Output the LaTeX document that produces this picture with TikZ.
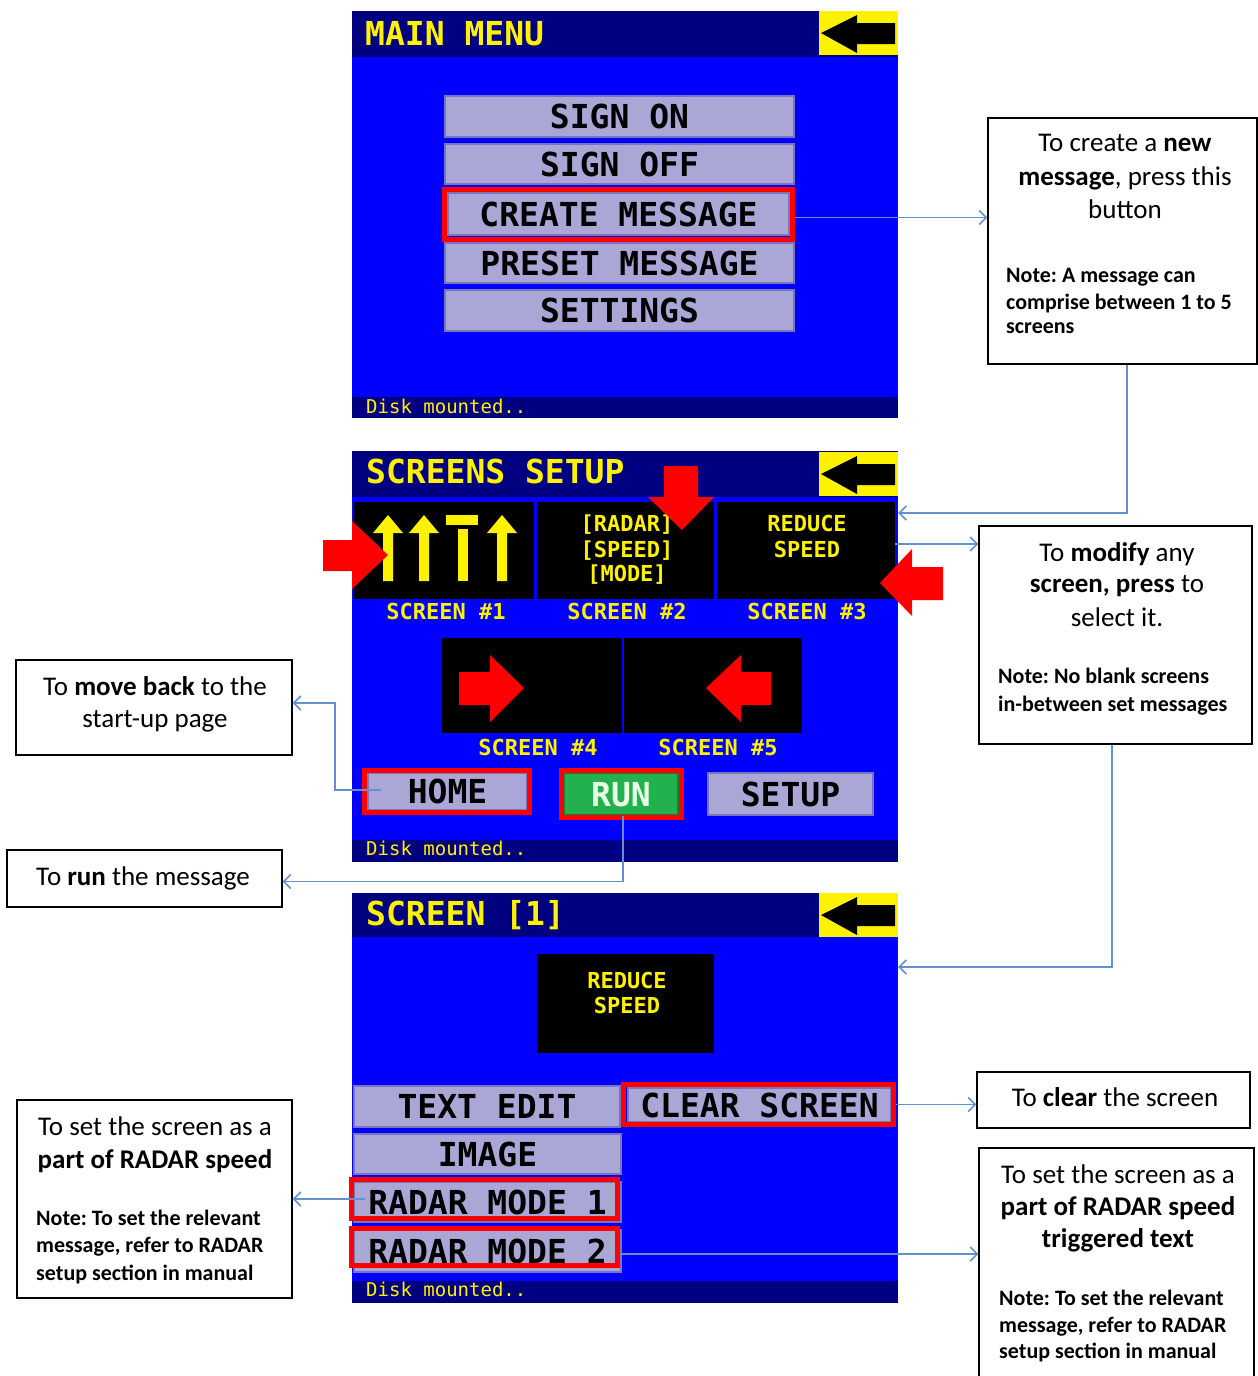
\documentclass[tikz,border=0pt]{standalone}
\usepackage{fontspec}
\setmainfont{Carlito}
\newfontfamily\lcdfont{DejaVu Sans Mono}
\usetikzlibrary{arrows.meta,calc}
\frenchspacing
\definecolor{navy}{RGB}{0,0,128}
\definecolor{lcdblue}{RGB}{0,0,255}
\definecolor{btnfill}{RGB}{170,166,214}
\definecolor{btnedge}{RGB}{120,116,190}
\definecolor{runfill}{RGB}{34,177,76}
\definecolor{runtext}{RGB}{230,255,230}
\definecolor{connblue}{RGB}{100,145,205}
\tikzset{
  panel/.style={fill=lcdblue, inner sep=0pt, minimum width=546pt},
  title/.style={font=\lcdfont\bfseries\fontsize{33}{33}\selectfont, text=yellow, anchor=base west, inner sep=0pt},
  btn/.style={fill=btnfill, draw=btnedge, line width=1.2pt, inner sep=0pt, font=\lcdfont\bfseries\fontsize{33}{33}\selectfont, text height=24pt, text depth=0pt},
  redfr/.style={draw=red, line width=5pt, inner sep=0pt},
  cell/.style={fill=black, inner sep=0pt},
  sigtext/.style={font=\lcdfont\bfseries\fontsize{22}{22}\selectfont, text=yellow, anchor=base, inner sep=0pt},
  status/.style={font=\lcdfont\fontsize{19}{19}\selectfont, text=yellow, anchor=base west, inner sep=0pt},
  callout/.style={draw=black, line width=1.3pt, fill=white, inner sep=0pt},
  mtxt/.style={font=\fontsize{27}{27}\selectfont, anchor=base, inner sep=0pt},
  ntxt/.style={font=\bfseries\fontsize{22}{22}\selectfont, anchor=base west, inner sep=0pt},
  conn/.style={draw=connblue, line width=1.6pt, -{Straight Barb[length=7pt,width=14pt]}},
  backbtn/.pic={
    \fill[yellow] (0,0) rectangle (79,44);
    \fill[black] (2,22) -- (38,4) -- (38,12) -- (76,12) -- (76,33) -- (38,33) -- (38,42) -- cycle;
  },
  yup/.pic={
    \fill[yellow] (-15,18) -- (0,0) -- (15,18) -- (5,18) -- (5,66) -- (-5,66) -- (-5,18) -- cycle;
  }
}
\begin{document}
\begin{tikzpicture}[x=1pt,y=-1pt]
\useasboundingbox (0,0) rectangle (1258,1376);
\fill[white] (0,0) rectangle (1258,1376);

% ================= PANEL 1 : MAIN MENU =================
\node[panel, minimum height=407pt] (p1) at (625,214.5) {};
\fill[navy] (352,11) rectangle (898,57);
\fill[navy] (352,397) rectangle (898,418);
\pic at (819,11) {backbtn};
\node[title] (t1) at (365,45) {MAIN MENU};
\node[btn, minimum width=349pt, minimum height=41pt] (signon) at (619.5,116.5) {SIGN ON};
\node[btn, minimum width=349pt, minimum height=40pt] (signoff) at (619.5,164) {SIGN OFF};
\node[btn, minimum width=341pt, minimum height=42pt] (create) at (618.5,214) {CREATE MESSAGE};
\node[redfr, minimum width=348pt, minimum height=50pt] (createfr) at (618.5,214.5) {};
\node[btn, minimum width=349pt, minimum height=40pt] (preset) at (619.5,263) {PRESET MESSAGE};
\node[btn, minimum width=349pt, minimum height=41pt] (settings) at (619.5,310.5) {SETTINGS};
\node[status] (d1) at (366,413) {Disk mounted..};

% ================= PANEL 2 : SCREENS SETUP =================
\node[panel, minimum height=411pt] (p2) at (625,656.5) {};
\fill[navy] (352,451) rectangle (898,497);
\fill[navy] (352,840) rectangle (898,862);
\pic at (819,452) {backbtn};
\node[title] (t2) at (366,483) {SCREENS SETUP};
\node[cell, minimum width=180pt, minimum height=97pt] (s1) at (444,550.5) {};
\node[cell, minimum width=177pt, minimum height=97pt] (s2) at (625.5,550.5) {};
\node[cell, minimum width=178pt, minimum height=97pt] (s3) at (806,550.5) {};
\node[cell, minimum width=180pt, minimum height=95pt] (s4) at (532,685.5) {};
\node[cell, minimum width=178pt, minimum height=95pt] (s5) at (713,685.5) {};
% screen 1 content
\pic at (388,515) {yup};
\pic at (424,515) {yup};
\pic at (502,515) {yup};
\fill[yellow] (446,515) rectangle (478,525);
\fill[yellow] (458,529) rectangle (468,581);
% screen 2 / 3 content
\node[sigtext] (s2a) at (627,531) {[RADAR]};
\node[sigtext] (s2b) at (627,557) {[SPEED]};
\node[sigtext] (s2c) at (627,581) {[MODE]};
\node[sigtext] (s3a) at (807,531) {REDUCE};
\node[sigtext] (s3b) at (807,557) {SPEED};
% labels
\node[sigtext] (l1) at (446,619) {SCREEN \#1};
\node[sigtext] (l2) at (627,619) {SCREEN \#2};
\node[sigtext] (l3) at (807,619) {SCREEN \#3};
\node[sigtext] (l4) at (538,755) {SCREEN \#4};
\node[sigtext] (l5) at (718,755) {SCREEN \#5};
% red arrows in screens 4,5
\fill[red] (459,672) -- (490,672) -- (490,655) -- (524,688) -- (490,722) -- (490,705) -- (459,705) -- cycle;
\fill[red] (771,672) -- (741,672) -- (741,655) -- (706,688) -- (741,722) -- (741,705) -- (771,705) -- cycle;
% red pointer arrows
\fill[red] (323,540) -- (352,540) -- (352,521) -- (388,555) -- (352,589) -- (352,571) -- (323,571) -- cycle;
\fill[red] (664,466) -- (698,466) -- (698,497) -- (714,497) -- (682,530) -- (648,497) -- (664,497) -- cycle;
\fill[red] (943,567) -- (912,567) -- (912,549) -- (880,583) -- (912,616) -- (912,600) -- (943,600) -- cycle;
% buttons
\node[btn, minimum width=159pt, minimum height=37pt] (home) at (447.5,791.5) {HOME};
\node[redfr, minimum width=165pt, minimum height=42pt] (homefr) at (447,791.5) {};
\node[btn, fill=runfill, draw=runfill!70!black, text=runtext, minimum width=114pt, minimum height=42pt] (run) at (621,794) {RUN};
\node[redfr, minimum width=120pt, minimum height=47pt] (runfr) at (621.5,794) {};
\node[btn, minimum width=165pt, minimum height=42pt] (setup) at (790.5,794) {SETUP};
\node[status] (d2) at (366,855) {Disk mounted..};

% ================= PANEL 3 : SCREEN [1] =================
\node[panel, minimum height=410pt] (p3) at (625,1098) {};
\fill[navy] (352,893) rectangle (898,937);
\fill[navy] (352,1281) rectangle (898,1303);
\pic at (819,893) {backbtn};
\node[title] (t3) at (366,925) {SCREEN [1]};
\node[cell, minimum width=177pt, minimum height=99pt] (sc) at (625.5,1003.5) {};
\node[sigtext] (sca) at (627,988) {REDUCE};
\node[sigtext] (scb) at (627,1013) {SPEED};
\node[btn, minimum width=266pt, minimum height=41pt] (textedit) at (487,1106.5) {TEXT EDIT};
\node[btn, minimum width=263pt, minimum height=34pt] (clear) at (759.5,1105) {CLEAR SCREEN};
\node[redfr, minimum width=270pt, minimum height=40pt] (clearfr) at (758.5,1104.5) {};
\node[btn, minimum width=267pt, minimum height=40pt] (image) at (487.5,1154) {IMAGE};
\node[btn, minimum width=267pt, minimum height=40pt] (r1) at (487.5,1202) {RADAR MODE 1};
\node[redfr, minimum width=266pt, minimum height=39pt] (r1fr) at (484.5,1199) {};
\node[btn, minimum width=267pt, minimum height=42pt] (r2) at (487.5,1251) {RADAR MODE 2};
\node[redfr, minimum width=266pt, minimum height=37pt] (r2fr) at (484.5,1247) {};
\node[status] (d3) at (366,1296) {Disk mounted..};

% ================= CALLOUT BOXES =================
\node[callout, minimum width=269pt, minimum height=246pt] (boxA) at (1122.5,241) {};
\node[mtxt] (a1) at (1125,151) {To create a \textbf{new}};
\node[mtxt] (a2) at (1125,185) {\textbf{message}, press this};
\node[mtxt] (a3) at (1125,218) {button};
\node[ntxt] (a4) at (1006,282) {Note: A message can};
\node[ntxt] (a5) at (1006,309) {comprise between 1 to 5};
\node[ntxt] (a6) at (1006,333) {screens};

\node[callout, minimum width=273pt, minimum height=218pt] (boxB) at (1115.5,635) {};
\node[mtxt] (b1) at (1117,561) {To \textbf{modify} any};
\node[mtxt] (b2) at (1117,592) {\textbf{screen, press} to};
\node[mtxt] (b3) at (1117,626) {select it.};
\node[ntxt] (b4) at (998,683) {Note: No blank screens};
\node[ntxt] (b5) at (998,711) {in-between set messages};

\node[callout, minimum width=276pt, minimum height=95pt] (boxC) at (154,707.5) {};
\node[mtxt] (c1) at (155,695) {To \textbf{move back} to the};
\node[mtxt] (c2) at (155,727) {start-up page};

\node[callout, minimum width=275pt, minimum height=57pt] (boxD) at (144.5,878.5) {};
\node[mtxt] (d4) at (143,885) {To \textbf{run} the message};

\node[callout, minimum width=273pt, minimum height=56pt] (boxE) at (1113.5,1100) {};
\node[mtxt] (e1) at (1115,1106) {To \textbf{clear} the screen};

\node[callout, minimum width=275pt, minimum height=242pt] (boxF) at (1116.5,1269) {};
\node[mtxt] (f1) at (1118,1183) {To set the screen as a};
\node[mtxt] (f2) at (1118,1215) {\textbf{part of RADAR speed}};
\node[mtxt] (f3) at (1118,1247) {\textbf{triggered text}};
\node[ntxt] (f4) at (999,1305) {Note: To set the relevant};
\node[ntxt] (f5) at (999,1332) {message, refer to RADAR};
\node[ntxt] (f6) at (999,1358) {setup section in manual};

\node[callout, minimum width=275pt, minimum height=198pt] (boxG) at (154.5,1199) {};
\node[mtxt] (g1) at (155,1135) {To set the screen as a};
\node[mtxt] (g2) at (155,1168) {\textbf{part of RADAR speed}};
\node[ntxt] (g3) at (36,1225) {Note: To set the relevant};
\node[ntxt] (g4) at (36,1252) {message, refer to RADAR};
\node[ntxt] (g5) at (36,1280) {setup section in manual};

% ================= CONNECTORS =================
\coordinate (hb) at (335,703);
\coordinate (c3) at (895,544);
\draw[conn] ([yshift=-3pt]createfr.east) -- ([yshift=-3pt]createfr.east -| boxA.west);
\draw[conn] ([xshift=4.5pt]boxA.south) |- ([yshift=143.5pt]p2.east);
\draw[conn] (c3) -- (c3 -| boxB.west);
\draw[conn] ([xshift=-3.5pt]boxB.south) |- ([yshift=131pt]p3.east);
\draw[conn] ([xshift=14pt,yshift=1.5pt]home.west) -| (hb) -- (hb -| boxC.east);
\draw[conn] ([xshift=2pt]run.south) |- ([yshift=-3pt]boxD.east);
\draw[conn] (clearfr.east) -- (clearfr.east -| boxE.west);
\draw[conn] ([xshift=16pt]r1fr.west) -- (r1fr.west -| boxG.east);
\draw[conn] ([yshift=-7pt]r2fr.east) -- ([yshift=-7pt]r2fr.east -| boxF.west);
\end{tikzpicture}
\end{document}
